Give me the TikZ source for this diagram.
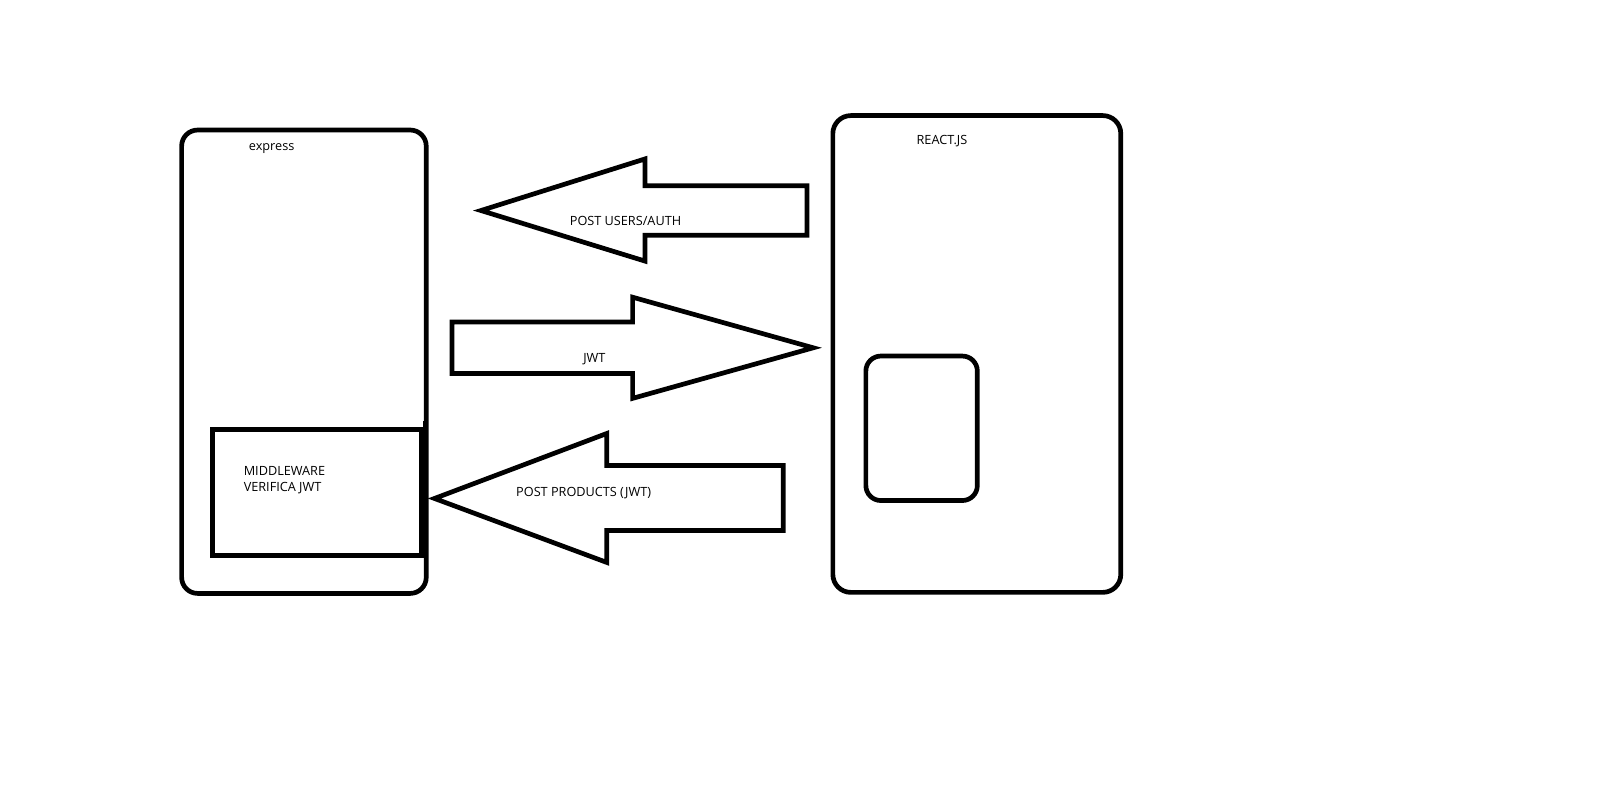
\documentclass[tikz,border=0pt]{standalone}
\usepackage{fontspec}
\setmainfont{Open Sans}
\begin{document}
\begin{tikzpicture}[x=1.032pt,y=-1.032pt,
  box/.style={draw=black,line width=4.7pt,rounded corners=16pt},
  plainbox/.style={draw=black,line width=4.7pt},
  bigarrow/.style={draw=black,line width=4.7pt,line join=miter,fill=white},
  lbl/.style={font=\fontsize{12.7}{15.5}\selectfont,anchor=west,inner sep=0pt,text=black}]
\useasboundingbox (0,0) rectangle (1567.8,769.4);
\fill[white] (0,0) rectangle (1567.8,769.4);
% express box
\draw[box] (176,126) rectangle (413,575);
\node[lbl] (expresslbl) at (241,144) {express};
% middleware
\draw[plainbox] (206,416) rectangle (408,538);
\draw[line width=2pt] (411,408) -- (411,541);
\node[lbl,align=left] (mw) at (236,465) {MIDDLEWARE\\VERIFICA JWT};
% react box
\draw[box,rounded corners=18pt] (807,112) rectangle (1086,574);
\node[lbl] (reactlbl) at (888,137) {REACT.JS};
\draw[box,rounded corners=15pt] (839,345) rectangle (947,485);
% arrow 1: POST USERS/AUTH (left)
\draw[bigarrow] (466,204) -- (625,154) -- (625,180) -- (782,180) -- (782,228) -- (625,228) -- (625,253) -- cycle;
\node[lbl] (a1) at (552,214) {POST USERS/AUTH};
% arrow 2: JWT (right)
\draw[bigarrow] (788,337) -- (613,288) -- (613,312) -- (438,312) -- (438,362) -- (613,362) -- (613,386) -- cycle;
\node[lbl] (a2) at (565,348) {JWT};
% arrow 3: POST PRODUCTS (JWT) (left)
\draw[bigarrow] (421,483) -- (588,420) -- (588,451) -- (759,451) -- (759,514) -- (588,514) -- (588,545) -- cycle;
\node[lbl] (a3) at (500,478) {POST PRODUCTS (JWT)};
\end{tikzpicture}
\end{document}
